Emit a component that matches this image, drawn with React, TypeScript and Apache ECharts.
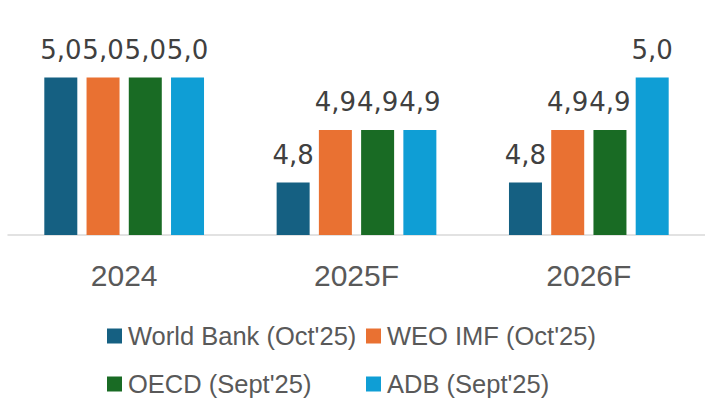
import React, { useEffect, useRef } from "react";
import * as echarts from "echarts";

const categories = ["2024", "2025F", "2026F"];
const worldBank = [5.0, 4.8, 4.8];
const weoImf = [5.0, 4.9, 4.9];
const oecd = [5.0, 4.9, 4.9];
const adb = [5.0, 4.9, 5.0];
const seriesNames = ["World Bank (Oct'25)", "WEO IMF (Oct'25)", "OECD (Sept'25)", "ADB (Sept'25)"];
const seriesColors = ["#156082", "#E97132", "#196B24", "#0F9ED5"];

export default function App() {
  const ref = useRef<HTMLDivElement>(null);
  useEffect(() => {
    if (!ref.current) return;
    const chart = echarts.init(ref.current, undefined, { renderer: "svg" });
    const values = [worldBank, weoImf, oecd, adb];
    const legendPos = [
      { left: 107, top: 323 },
      { left: 366, top: 323 },
      { left: 107, top: 371 },
      { left: 366, top: 371 },
    ];
    chart.setOption({
      animation: false,
      backgroundColor: "#ffffff",
      grid: { left: 8, right: -1, top: 25, bottom: 169, containLabel: false },
      xAxis: {
        type: "category",
        data: categories,
        axisLine: { show: true, lineStyle: { color: "#d9d9d9", width: 1.5 } },
        axisTick: { show: false },
        axisLabel: {
          color: "#595959",
          fontSize: 30,
          fontFamily: "Liberation Sans, Arial, sans-serif",
          margin: 25,
        },
      },
      yAxis: {
        type: "value",
        min: 4.7,
        max: 5.1,
        interval: 0.1,
        show: false,
        splitLine: { show: false },
      },
      legend: seriesNames.map((n, i) => ({
        data: [n],
        left: legendPos[i].left,
        top: legendPos[i].top,
        padding: 0,
        itemWidth: 15,
        itemHeight: 15,
        icon: "rect",
        selectedMode: false,
        textStyle: {
          color: "#595959",
          fontSize: 25.5,
          fontFamily: "Liberation Sans, Arial, sans-serif",
          padding: [0, 0, 0, 1],
        },
      })),
      series: seriesNames.map((n, i) => ({
        name: n,
        type: "bar",
        data: values[i],
        barWidth: 33,
        barGap: "28%",
        itemStyle: { color: seriesColors[i] },
        label: {
          show: true,
          position: "top",
          distance: 15,
          color: "#404040",
          fontSize: 26,
          fontFamily: "DejaVu Sans, sans-serif",
          formatter: (p: any) => Number(p.value).toFixed(1).replace(".", ","),
        },
      })),
    });
    return () => chart.dispose();
  }, []);
  return <div ref={ref} style={{ width: 705, height: 404, position: "absolute", left: 0, top: 0 }} />;
}
